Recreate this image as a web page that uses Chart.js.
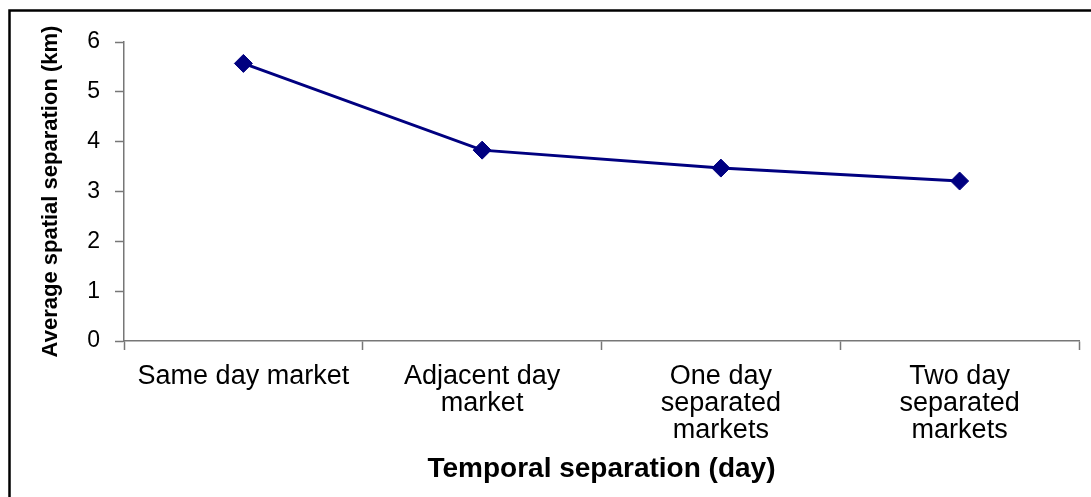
<!DOCTYPE html>
<html>
<head>
<meta charset="utf-8">
<script src="https://cdn.jsdelivr.net/npm/chart.js@4"></script>
<style>
  html, body { margin: 0; padding: 0; background: #ffffff; }
  #wrap { width: 1091px; height: 497px; position: relative; }
</style>
</head>
<body>
<div id="wrap"><canvas id="c" width="1091" height="497"></canvas></div>
<script>
const categories = [
  "Same day market",
  ["Adjacent day", "market"],
  ["One day", "separated", "markets"],
  ["Two day", "separated", "markets"]
];
const avgSeparation = [5.57, 3.83, 3.47, 3.21];
const yTicks = [0, 1, 2, 3, 4, 5, 6];
const xTitle = "Temporal separation (day)";
const yTitle = "Average spatial separation (km)";

const FONT = "'Liberation Sans', Arial, Helvetica, sans-serif";
const AXIS = "#777777";

const framePlugin = {
  id: "frame",
  afterDraw(chart) {
    const ctx = chart.ctx;
    ctx.save();
    ctx.strokeStyle = "#000000";
    ctx.lineWidth = 2.5;
    ctx.beginPath();
    ctx.moveTo(9.5, 497);
    ctx.lineTo(9.5, 10.5);
    ctx.lineTo(1091, 10.5);
    ctx.stroke();
    ctx.restore();
  }
};

new Chart(document.getElementById("c"), {
  type: "line",
  data: {
    labels: categories,
    datasets: [{
      data: avgSeparation,
      borderColor: "#000080",
      backgroundColor: "#000080",
      borderWidth: 3,
      pointStyle: "rectRot",
      pointRadius: 9,
      pointBorderWidth: 1,
      pointBackgroundColor: "#000080",
      pointBorderColor: "#000080",
      tension: 0,
      fill: false
    }]
  },
  options: {
    responsive: false,
    devicePixelRatio: 1,
    animation: false,
    layout: { padding: { left: 30, right: 12, top: 42, bottom: 10 } },
    plugins: { legend: { display: false }, tooltip: { enabled: false } },
    scales: {
      x: {
        offset: true,
        grid: {
          offset: true,
          drawOnChartArea: false,
          drawTicks: true,
          tickLength: 9,
          tickColor: AXIS,
          tickWidth: 1.5
        },
        border: { color: AXIS, width: 1.5 },
        ticks: {
          color: "#000000",
          padding: 13,
          maxRotation: 0,
          autoSkip: false,
          font: { family: FONT, size: 27, lineHeight: 1.0 }
        },
        title: {
          display: true,
          text: xTitle,
          color: "#000000",
          padding: { top: 0, bottom: 1 },
          font: { family: FONT, size: 28, weight: "bold", lineHeight: 1.2 }
        },
        afterFit(scale) { scale.height = 497 - 10 - 341; }
      },
      y: {
        min: 0,
        max: 6,
        afterBuildTicks(scale) { scale.ticks = yTicks.map(v => ({ value: v })); },
        grid: {
          drawOnChartArea: false,
          drawTicks: true,
          tickLength: 9,
          tickColor: AXIS,
          tickWidth: 1.5
        },
        border: { color: AXIS, width: 1.5 },
        ticks: {
          color: "#000000",
          padding: 15,
          font: { family: FONT, size: 23 }
        },
        title: {
          display: true,
          text: yTitle,
          color: "#000000",
          padding: { top: 8, bottom: 0 },
          font: { family: FONT, size: 22, weight: "bold" }
        },
        afterFit(scale) { scale.width = 124 - 30; }
      }
    }
  },
  plugins: [framePlugin]
});
</script>
</body>
</html>
